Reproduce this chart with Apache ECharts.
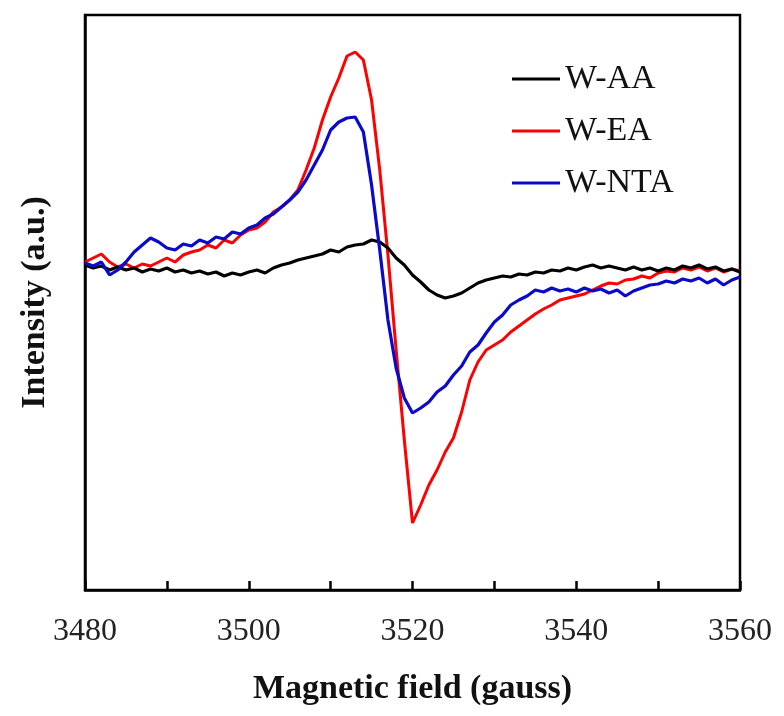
<!DOCTYPE html>
<html>
<head>
<meta charset="utf-8">
<script src="https://cdn.jsdelivr.net/npm/echarts@6/dist/echarts.min.js"></script>
<style>html,body{margin:0;padding:0;background:#fff;}#chart{width:784px;height:716px;}</style>
</head>
<body>
<div id="chart"></div>
<script>
// Magnetic field (gauss)
var field = [3480,3481,3482,3483,3484,3485,3486,3487,3488,3489,3490,3491,3492,3493,3494,3495,3496,3497,3498,3499,
3500,3501,3502,3503,3504,3505,3506,3507,3508,3509,3510,3511,3512,3513,3514,3515,3516,3517,3518,3519,
3520,3521,3522,3523,3524,3525,3526,3527,3528,3529,3530,3531,3532,3533,3534,3535,3536,3537,3538,3539,
3540,3541,3542,3543,3544,3545,3546,3547,3548,3549,3550,3551,3552,3553,3554,3555,3556,3557,3558,3559,3560];
// Intensity (a.u.)
var wAA = [3,0,2,-2,1,-2,0,-4,-1,-3,0,-4,-2,-5,-3,-6,-4,-8,-5,-7,
-4,-2,-5,0,3,5,8,10,12,14,18,16,21,23,24,28,26,20,10,3,
-7,-14,-22,-27,-30,-28,-25,-20,-15,-12,-10,-8,-9,-6,-7,-4,-5,-2,-3,0,
-2,1,3,0,2,0,-2,1,-2,0,-3,0,-2,2,0,3,-1,1,-3,-1,-4];
var wEA = [6,10,14,6,1,4,0,4,2,6,10,6,13,16,18,23,20,28,25,33,
38,40,46,56,61,68,78,98,120,148,171,190,212,216,208,168,98,13,-82,-172,
-255,-237,-217,-202,-184,-170,-144,-112,-94,-82,-77,-72,-64,-58,-52,-46,-41,-37,-32,-30,
-28,-26,-22,-18,-15,-16,-12,-11,-8,-10,-5,-3,-4,0,-2,1,-3,0,-4,-1,-3];
var wNTA = [5,2,6,-7,-2,6,16,23,30,26,20,18,24,22,28,25,31,29,36,34,
40,43,50,54,61,68,76,88,103,118,138,146,150,151,136,83,18,-52,-100,-130,
-145,-140,-134,-124,-118,-107,-98,-84,-77,-65,-54,-47,-37,-32,-28,-22,-24,-20,-23,-21,
-24,-20,-23,-21,-25,-22,-28,-23,-20,-17,-16,-13,-15,-11,-13,-10,-15,-11,-17,-12,-9];
var seriesNames = ['W-AA','W-EA','W-NTA'];
var xTickLabels = [3480,3500,3520,3540,3560];

function pairs(ys){ return field.map(function(f,i){ return [f, ys[i]]; }); }

var FONT = "'Liberation Serif','Times New Roman',serif";
var chart = echarts.init(document.getElementById('chart'), null, {renderer:'canvas'});
chart.setOption({
  backgroundColor:'#fff',
  animation:false,
  grid:{left:85,right:44,top:15,bottom:126,show:true,borderColor:'#000',borderWidth:2.5,backgroundColor:'transparent'},
  legend:{
    data:seriesNames, orient:'vertical', left:512, top:62, padding:0,
    icon:'rect', itemWidth:48, itemHeight:3, itemGap:18,
    textStyle:{fontFamily:FONT,fontSize:34,color:'#111',lineHeight:34}
  },
  xAxis:{
    type:'value', min:3480, max:3560, interval:10,
    name:'Magnetic field (gauss)', nameLocation:'middle', nameGap:82,
    nameTextStyle:{fontFamily:FONT,fontSize:34,fontWeight:'bold',color:'#111'},
    axisLine:{show:true,onZero:false,lineStyle:{color:'#000',width:2.5}},
    axisTick:{show:true,inside:true,length:9,lineStyle:{color:'#000',width:2.5}},
    axisLabel:{margin:26,fontFamily:FONT,fontSize:32,color:'#222',
      formatter:function(v){ return xTickLabels.indexOf(v)>=0 ? String(v) : ''; }},
    splitLine:{show:false}
  },
  yAxis:{
    type:'value', min:-322, max:253,
    name:'Intensity (a.u.)', nameLocation:'middle', nameGap:33,
    nameTextStyle:{fontFamily:FONT,fontSize:34,fontWeight:'bold',color:'#111'},
    axisLine:{show:true,onZero:false,lineStyle:{color:'#000',width:2.5}},
    axisTick:{show:false}, axisLabel:{show:false}, splitLine:{show:false}
  },
  series:[
    {name:seriesNames[0],type:'line',data:pairs(wAA),symbol:'none',lineStyle:{color:'#000',width:3.2},itemStyle:{color:'#000'},z:3},
    {name:seriesNames[1],type:'line',data:pairs(wEA),symbol:'none',lineStyle:{color:'#ff0000',width:3},itemStyle:{color:'#ff0000'},z:2},
    {name:seriesNames[2],type:'line',data:pairs(wNTA),symbol:'none',lineStyle:{color:'#0a0ac8',width:3.2},itemStyle:{color:'#0a0ac8'},z:4}
  ]
});
</script>
</body>
</html>
